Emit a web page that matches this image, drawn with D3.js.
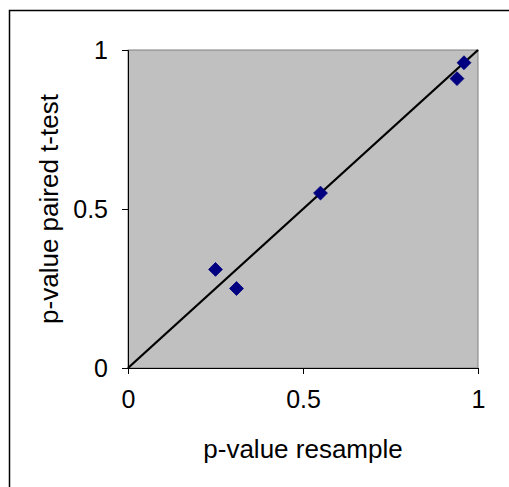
<!DOCTYPE html>
<html>
<head>
<meta charset="utf-8">
<script src="https://cdn.jsdelivr.net/npm/d3@7"></script>
<style>
  body { margin: 0; background: #fff; }
  svg text { font-family: Arial, "Liberation Sans", sans-serif; fill: #000; }
</style>
</head>
<body>
<svg id="chart"></svg>
<script>
// data
let resampleP = [0.25, 0.31, 0.55, 0.94, 0.96];
let tTestP = [0.31, 0.25, 0.55, 0.91, 0.96];
let diagonal = [[0, 0], [1, 1]];
let xTicks = [0, 0.5, 1];
let yTicks = [0, 0.5, 1];
let xTitle = "p-value resample";
let yTitle = "p-value paired t-test";

let width = 509, height = 487;
let plotL = 128, plotR = 478, plotT = 50, plotB = 368;

let svg = d3.select("#chart")
  .attr("width", width)
  .attr("height", height);

// chart area frame (runs off the right/bottom like the reference crop)
svg.append("rect")
  .attr("x", 9.5)
  .attr("y", 10.5)
  .attr("width", width + 10)
  .attr("height", height + 10)
  .attr("fill", "#fff")
  .attr("stroke", "#000")
  .attr("stroke-width", 1.5);

let x = d3.scaleLinear().domain([0, 1]).range([plotL, plotR]);
let y = d3.scaleLinear().domain([0, 1]).range([plotB, plotT]);

// plot area
svg.append("rect")
  .attr("x", x(0))
  .attr("y", y(1))
  .attr("width", x(1) - x(0))
  .attr("height", y(0) - y(1))
  .attr("fill", "#c0c0c0")
  .attr("stroke", "#808080")
  .attr("stroke-width", 1);

// axes
let xAxis = svg.append("g")
  .attr("transform", `translate(0, ${y(0)})`)
  .call(d3.axisBottom(x).tickValues(xTicks).tickSize(6).tickPadding(16).tickFormat(d3.format("")));

let yAxis = svg.append("g")
  .attr("transform", `translate(${x(0)}, 0)`)
  .call(d3.axisLeft(y).tickValues(yTicks).tickSize(6).tickPadding(14).tickFormat(d3.format("")));

[xAxis, yAxis].forEach(ax => {
  ax.select(".domain").attr("stroke", "#000").attr("stroke-width", 1);
  ax.selectAll(".tick line").attr("stroke", "#000");
  ax.selectAll("text")
    .attr("font-size", 25)
    .attr("font-family", "Arial, 'Liberation Sans', sans-serif")
    .attr("fill", "#000");
});

// y = x reference line
svg.append("path")
  .datum(diagonal)
  .attr("d", d3.line().x(d => x(d[0])).y(d => y(d[1])))
  .attr("fill", "none")
  .attr("stroke", "#000")
  .attr("stroke-width", 2.3);

// diamonds
let pts = resampleP.map((v, i) => ({ x: v, y: tTestP[i] }));
svg.selectAll(".pt")
  .data(pts)
  .enter()
  .append("path")
  .classed("pt", true)
  .attr("d", d3.symbol(d3.symbolSquare, 96))
  .attr("transform", d => `translate(${x(d.x)}, ${y(d.y)}) rotate(45)`)
  .attr("fill", "#000080")
  .attr("stroke", "#000080")
  .attr("stroke-width", 0.8)
  .attr("stroke-linejoin", "round");

// titles
svg.append("text")
  .attr("x", (x(0) + x(1)) / 2)
  .attr("y", 458)
  .attr("text-anchor", "middle")
  .attr("font-size", 26)
  .text(xTitle);

svg.append("text")
  .attr("transform", `translate(58, ${(y(0) + y(1)) / 2}) rotate(-90)`)
  .attr("text-anchor", "middle")
  .attr("font-size", 26)
  .text(yTitle);
</script>
</body>
</html>
